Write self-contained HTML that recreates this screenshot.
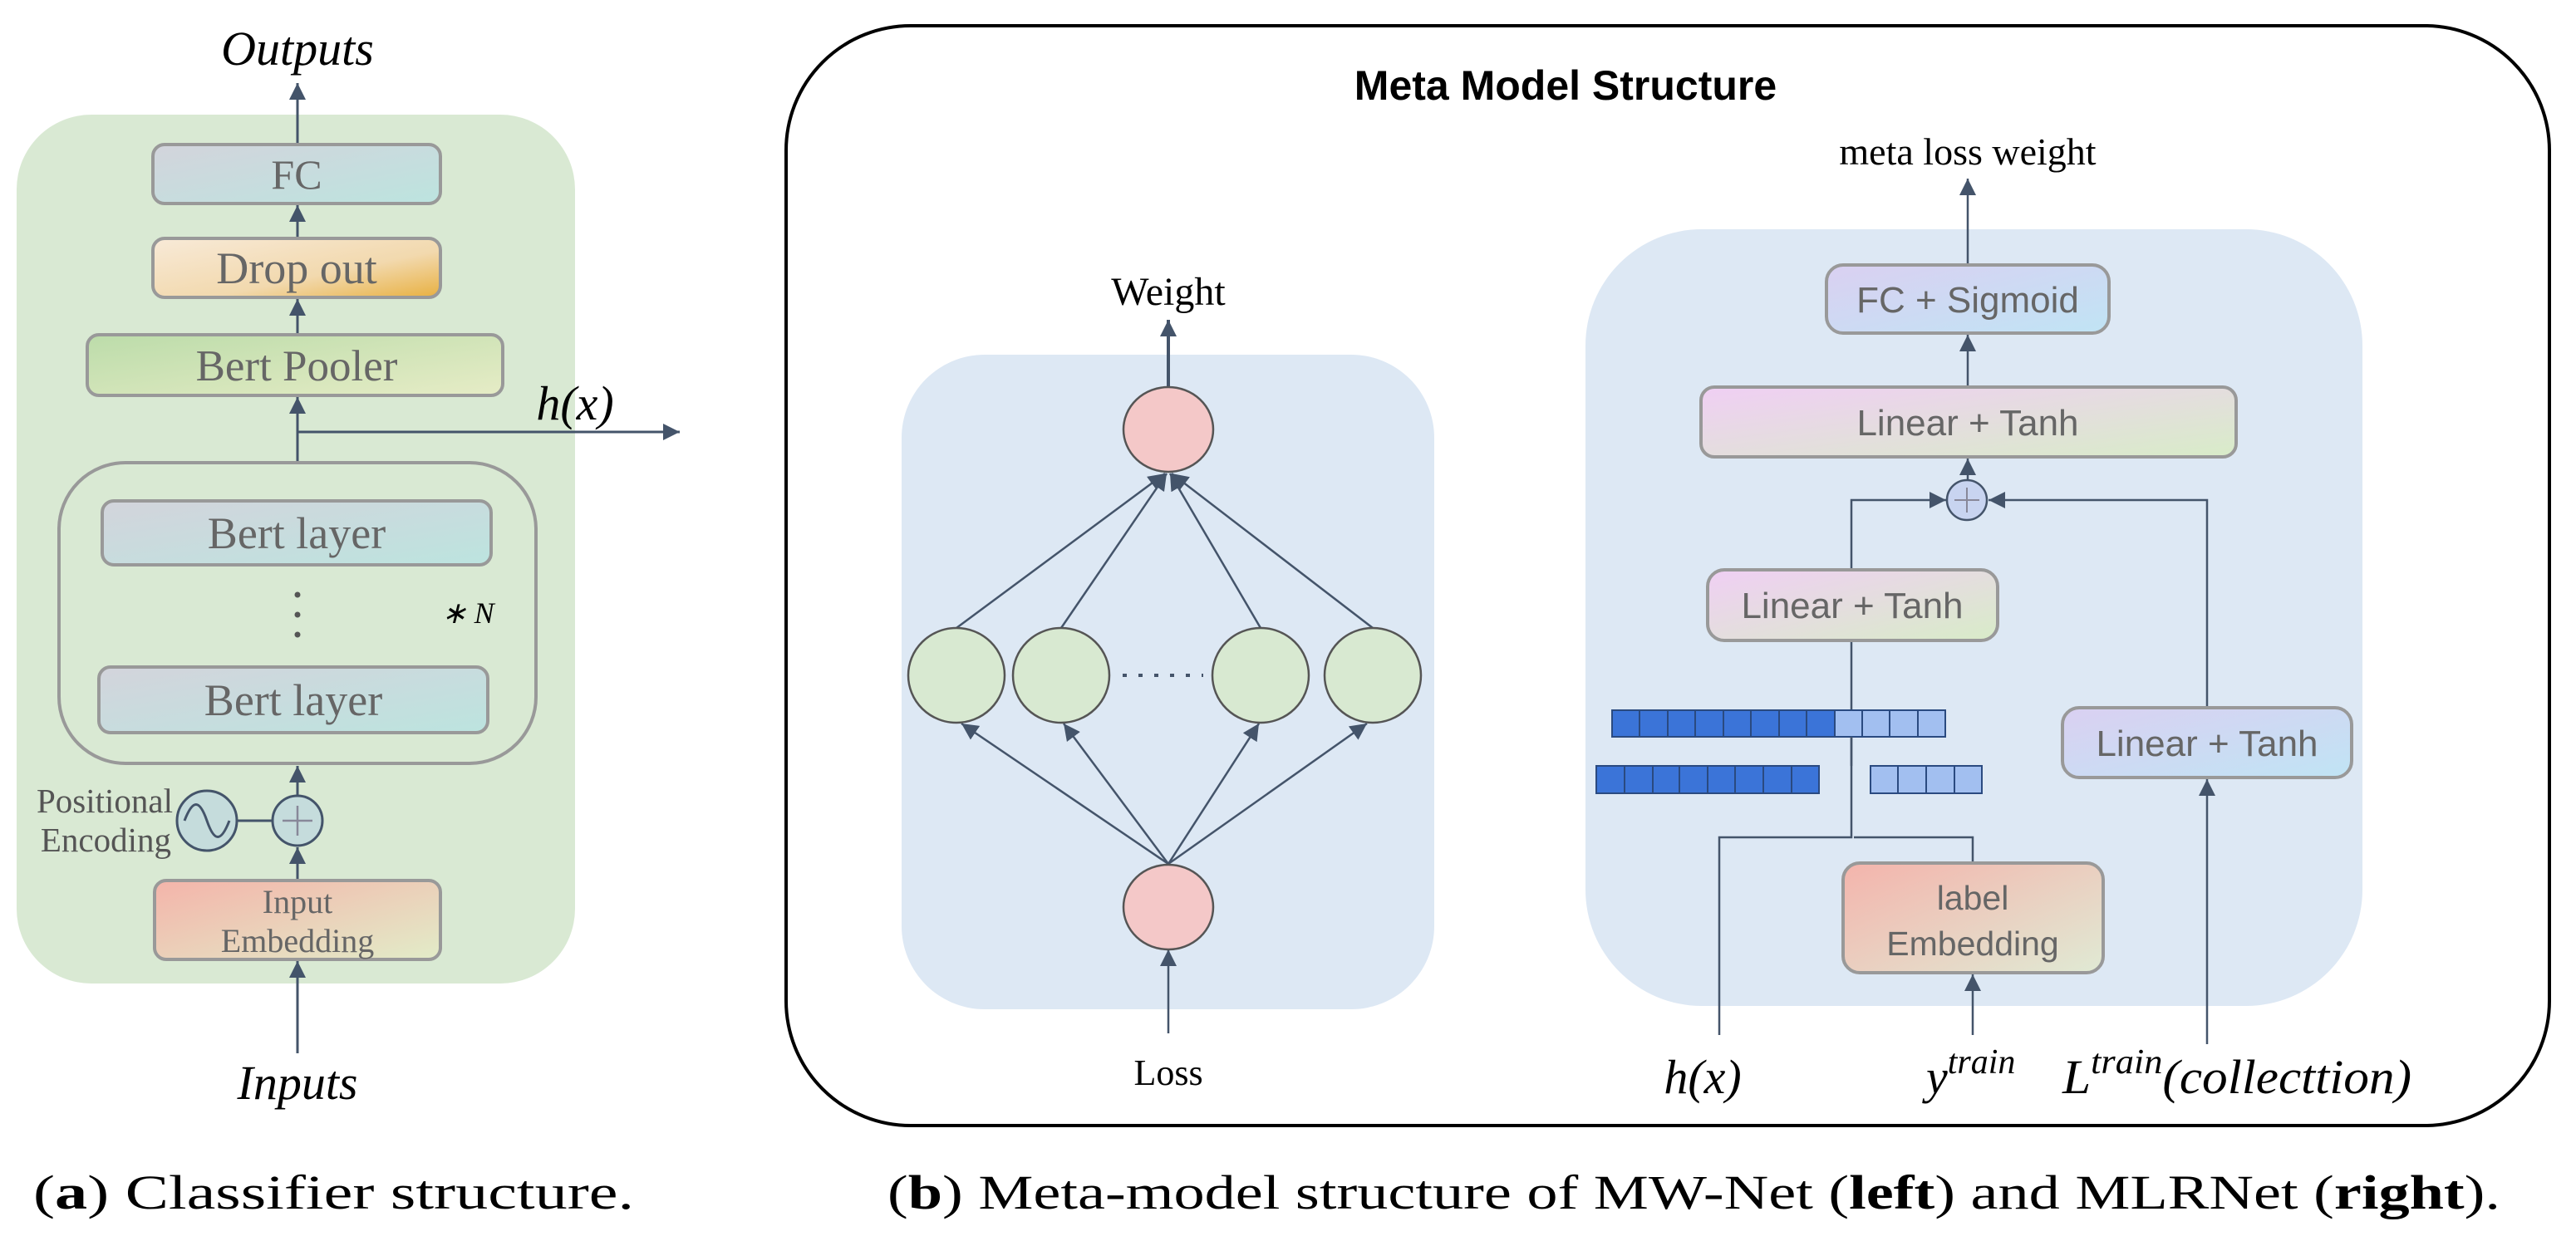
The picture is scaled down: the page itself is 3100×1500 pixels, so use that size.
<!DOCTYPE html>
<html><head><meta charset="utf-8"><style>html,body{margin:0;padding:0;background:#fff}svg{display:block}</style></head>
<body>
<svg width="3100" height="1500" viewBox="0 0 3100 1500" xmlns="http://www.w3.org/2000/svg">
<defs>
<marker id="a" viewBox="0 0 10 10" refX="10" refY="5" markerWidth="20" markerHeight="20" orient="auto" markerUnits="userSpaceOnUse"><path d="M0,0 L10,5 L0,10 z" fill="#44546a"/></marker>
<linearGradient id="gFC" x1="0" y1="0" x2="1" y2="1"><stop offset="0" stop-color="#d3d4dc"/><stop offset="1" stop-color="#bce4df"/></linearGradient>
<linearGradient id="gDrop" x1="0" y1="0" x2="1" y2="1"><stop offset="0" stop-color="#f8ead8"/><stop offset="0.6" stop-color="#f2d9ae"/><stop offset="1" stop-color="#e8b040"/></linearGradient>
<linearGradient id="gPool" x1="0" y1="0" x2="1" y2="1"><stop offset="0" stop-color="#bcdcaa"/><stop offset="1" stop-color="#e6ecc6"/></linearGradient>
<linearGradient id="gInp" x1="0" y1="0" x2="1" y2="1"><stop offset="0" stop-color="#f4b4aa"/><stop offset="1" stop-color="#e2ecc8"/></linearGradient>
<linearGradient id="gSig" x1="0" y1="0" x2="1" y2="1"><stop offset="0" stop-color="#dad0f2"/><stop offset="1" stop-color="#c0e4f4"/></linearGradient>
<linearGradient id="gLT" x1="0" y1="0" x2="1" y2="1"><stop offset="0" stop-color="#f0cff4"/><stop offset="1" stop-color="#d8ecc8"/></linearGradient>
<linearGradient id="gLab" x1="0" y1="0" x2="1" y2="1"><stop offset="0" stop-color="#f4b4ac"/><stop offset="1" stop-color="#e0ead4"/></linearGradient>
</defs>

<!-- LEFT PANEL -->
<rect x="20" y="138" width="672" height="1046" rx="90" fill="#d9e9d3"/>
<g stroke="#44546a" stroke-width="3" fill="none">
<line x1="358" y1="174" x2="358" y2="100" marker-end="url(#a)"/>
<line x1="358" y1="287" x2="358" y2="247" marker-end="url(#a)"/>
<line x1="358" y1="403" x2="358" y2="360" marker-end="url(#a)"/>
<line x1="358" y1="557" x2="358" y2="478" marker-end="url(#a)"/>
<line x1="358" y1="520" x2="818" y2="520" marker-end="url(#a)"/>
<line x1="358" y1="958" x2="358" y2="922" marker-end="url(#a)"/>
<line x1="358" y1="1060" x2="358" y2="1020" marker-end="url(#a)"/>
<line x1="358" y1="1268" x2="358" y2="1157" marker-end="url(#a)"/>
<line x1="285" y1="988" x2="328" y2="988"/>
</g>
<text x="358" y="78" font-family="Liberation Serif, serif" font-style="italic" font-size="58" text-anchor="middle">Outputs</text>
<rect x="184" y="174" width="346" height="71" rx="14" fill="url(#gFC)" stroke="#999" stroke-width="4"/>
<text x="357" y="227" font-family="Liberation Serif, serif" font-size="50" fill="#666" text-anchor="middle">FC</text>
<rect x="184" y="287" width="346" height="71" rx="14" fill="url(#gDrop)" stroke="#999" stroke-width="4"/>
<text x="357" y="341" font-family="Liberation Serif, serif" font-size="54" fill="#666" text-anchor="middle">Drop out</text>
<rect x="105" y="403" width="500" height="73" rx="14" fill="url(#gPool)" stroke="#999" stroke-width="4"/>
<text x="357" y="458" font-family="Liberation Serif, serif" font-size="53" fill="#666" text-anchor="middle">Bert Pooler</text>
<text x="692" y="505" font-family="Liberation Serif, serif" font-style="italic" font-size="58" text-anchor="middle">h(x)</text>
<rect x="71" y="557" width="574" height="362" rx="80" fill="none" stroke="#999" stroke-width="4"/>
<rect x="123" y="603" width="468" height="77" rx="14" fill="url(#gFC)" stroke="#999" stroke-width="4"/>
<text x="357" y="660" font-family="Liberation Serif, serif" font-size="54" fill="#666" text-anchor="middle">Bert layer</text>
<circle cx="358" cy="716" r="3.5" fill="#555"/><circle cx="358" cy="740" r="3.5" fill="#555"/><circle cx="358" cy="764" r="3.5" fill="#555"/>
<text x="563" y="750" font-family="Liberation Serif, serif" font-style="italic" font-size="36" text-anchor="middle">∗ N</text>
<rect x="119" y="803" width="468" height="79" rx="14" fill="url(#gFC)" stroke="#999" stroke-width="4"/>
<text x="353" y="861" font-family="Liberation Serif, serif" font-size="54" fill="#666" text-anchor="middle">Bert layer</text>
<circle cx="249" cy="988" r="36" fill="#c5dcdc" stroke="#44546a" stroke-width="3"/>
<path d="M222,988 C232,962 240,962 249,988 C258,1014 266,1014 276,988" fill="none" stroke="#44546a" stroke-width="3"/>
<circle cx="358" cy="988" r="30" fill="#c5dcdc" stroke="#44546a" stroke-width="3"/>
<path d="M340,988 H376 M358,970 V1006" stroke="#889" stroke-width="2.5"/>
<text x="208" y="978" font-family="Liberation Serif, serif" font-size="41" fill="#555" text-anchor="end">Positional</text>
<text x="206" y="1025" font-family="Liberation Serif, serif" font-size="41" fill="#555" text-anchor="end">Encoding</text>
<rect x="186" y="1060" width="344" height="95" rx="14" fill="url(#gInp)" stroke="#999" stroke-width="4"/>
<text x="358" y="1099" font-family="Liberation Serif, serif" font-size="40" fill="#666" text-anchor="middle">Input</text>
<text x="358" y="1146" font-family="Liberation Serif, serif" font-size="40" fill="#666" text-anchor="middle">Embedding</text>
<text x="358" y="1323" font-family="Liberation Serif, serif" font-style="italic" font-size="58" text-anchor="middle">Inputs</text>

<!-- BIG BOX -->
<rect x="946" y="31" width="2122" height="1324" rx="150" fill="none" stroke="#000" stroke-width="4"/>
<text x="1884" y="120" font-family="Liberation Sans, sans-serif" font-weight="bold" font-size="50" text-anchor="middle">Meta Model Structure</text>

<!-- MW-Net -->
<rect x="1085" y="427" width="641" height="788" rx="100" fill="#dde8f4"/>
<g stroke="#44546a" stroke-width="2.5" fill="none">
<line x1="1406" y1="466" x2="1406" y2="385" stroke-width="4" marker-end="url(#a)"/>
<line x1="1406" y1="1244" x2="1406" y2="1143" marker-end="url(#a)"/>
<line x1="1151" y1="756" x2="1402" y2="570" marker-end="url(#a)"/>
<line x1="1277" y1="756" x2="1404" y2="570" marker-end="url(#a)"/>
<line x1="1517" y1="756" x2="1408" y2="570" marker-end="url(#a)"/>
<line x1="1652" y1="756" x2="1410" y2="570" marker-end="url(#a)"/>
<line x1="1406" y1="1040" x2="1157" y2="871" marker-end="url(#a)"/>
<line x1="1406" y1="1040" x2="1280" y2="871" marker-end="url(#a)"/>
<line x1="1406" y1="1040" x2="1515" y2="871" marker-end="url(#a)"/>
<line x1="1406" y1="1040" x2="1645" y2="871" marker-end="url(#a)"/>
<line x1="1351" y1="813" x2="1448" y2="813" stroke-dasharray="5,14" stroke-width="4"/>
</g>
<ellipse cx="1406" cy="517" rx="54" ry="51" fill="#f4c8c8" stroke="#555" stroke-width="2.5"/>
<ellipse cx="1406" cy="1092" rx="54" ry="51" fill="#f4c8c8" stroke="#555" stroke-width="2.5"/>
<ellipse cx="1151" cy="813" rx="58" ry="57" fill="#d8e9d1" stroke="#555" stroke-width="2.5"/>
<ellipse cx="1277" cy="813" rx="58" ry="57" fill="#d8e9d1" stroke="#555" stroke-width="2.5"/>
<ellipse cx="1517" cy="813" rx="58" ry="57" fill="#d8e9d1" stroke="#555" stroke-width="2.5"/>
<ellipse cx="1652" cy="813" rx="58" ry="57" fill="#d8e9d1" stroke="#555" stroke-width="2.5"/>
<text x="1406" y="367" font-family="Liberation Serif, serif" font-size="48" text-anchor="middle">Weight</text>
<text x="1406" y="1306" font-family="Liberation Serif, serif" font-size="44" text-anchor="middle">Loss</text>

<!-- MLRNet -->
<rect x="1908" y="276" width="935" height="935" rx="140" fill="#dde8f4"/>
<text x="2368" y="198" font-family="Liberation Serif, serif" font-size="46" text-anchor="middle">meta loss weight</text>
<g stroke="#44546a" stroke-width="2.5" fill="none">
<line x1="2368" y1="319" x2="2368" y2="215" marker-end="url(#a)"/>
<line x1="2368" y1="466" x2="2368" y2="403" marker-end="url(#a)"/>
<line x1="2368" y1="578" x2="2368" y2="552" marker-end="url(#a)"/>
<polyline points="2228,686 2228,602 2342,602" marker-end="url(#a)"/>
<polyline points="2656,852 2656,602 2393,602" marker-end="url(#a)"/>
<polyline points="2228,771 2228,1008 2069,1008 2069,1246"/>
<polyline points="2231,1008 2374,1008 2374,1039"/>
<line x1="2374" y1="1246" x2="2374" y2="1173" marker-end="url(#a)"/>
<line x1="2656" y1="1257" x2="2656" y2="938" marker-end="url(#a)"/>
</g>
<rect x="2198" y="319" width="340" height="82" rx="20" fill="url(#gSig)" stroke="#999" stroke-width="4"/>
<text x="2368" y="376" font-family="Liberation Sans, sans-serif" font-size="44" fill="#666" text-anchor="middle">FC + Sigmoid</text>
<rect x="2047" y="466" width="644" height="84" rx="16" fill="url(#gLT)" stroke="#999" stroke-width="4"/>
<text x="2368" y="524" font-family="Liberation Sans, sans-serif" font-size="44" fill="#666" text-anchor="middle">Linear + Tanh</text>
<circle cx="2367" cy="602" r="24" fill="#c8d4f0" stroke="#44546a" stroke-width="2.5"/>
<path d="M2352,602 H2382 M2367,587 V617" stroke="#889" stroke-width="2"/>
<rect x="2055" y="686" width="349" height="85" rx="20" fill="url(#gLT)" stroke="#999" stroke-width="4"/>
<text x="2229" y="744" font-family="Liberation Sans, sans-serif" font-size="44" fill="#666" text-anchor="middle">Linear + Tanh</text>
<rect x="2482" y="852" width="348" height="84" rx="20" fill="url(#gSig)" stroke="#999" stroke-width="4"/>
<text x="2656" y="910" font-family="Liberation Sans, sans-serif" font-size="44" fill="#666" text-anchor="middle">Linear + Tanh</text>
<rect x="2218" y="1039" width="313" height="132" rx="20" fill="url(#gLab)" stroke="#999" stroke-width="4"/>
<text x="2374" y="1095" font-family="Liberation Sans, sans-serif" font-size="41" fill="#666" text-anchor="middle">label</text>
<text x="2374" y="1150" font-family="Liberation Sans, sans-serif" font-size="41" fill="#666" text-anchor="middle">Embedding</text>
<g stroke="#2a4a80" stroke-width="2">
<rect x="1940" y="855" width="268" height="32" fill="#3b74d8"/>
<rect x="2208" y="855" width="133" height="32" fill="#a2bff0"/>
<rect x="1921" y="922" width="268" height="33" fill="#3b74d8"/>
<rect x="2251" y="922" width="134" height="33" fill="#a2bff0"/>
<path d="M1973,855V887M2007,855V887M2040,855V887M2074,855V887M2107,855V887M2141,855V887M2174,855V887M2241,855V887M2274,855V887M2308,855V887M1955,922V955M1989,922V955M2021,922V955M2055,922V955M2088,922V955M2122,922V955M2156,922V955M2284,922V955M2318,922V955M2352,922V955"/>
</g>
<line x1="2228" y1="887" x2="2228" y2="922" stroke="#44546a" stroke-width="2.5"/>
<text x="2049" y="1316" font-family="Liberation Serif, serif" font-style="italic" font-size="58" text-anchor="middle">h(x)</text>
<text x="2318" y="1316" font-family="Liberation Serif, serif" font-style="italic" font-size="58">y<tspan font-size="42" dy="-24">train</tspan></text>
<text x="2482" y="1316" font-family="Liberation Serif, serif" font-style="italic" font-size="58" textLength="420" lengthAdjust="spacingAndGlyphs">L<tspan font-size="42" dy="-24">train</tspan><tspan dy="24">(collecttion)</tspan></text>

<!-- captions -->
<text x="40" y="1455" font-family="Liberation Serif, serif" font-size="58" textLength="723" lengthAdjust="spacingAndGlyphs">(<tspan font-weight="bold">a</tspan>) Classifier structure.</text>
<text x="1068" y="1455" font-family="Liberation Serif, serif" font-size="58" textLength="1941" lengthAdjust="spacingAndGlyphs">(<tspan font-weight="bold">b</tspan>) Meta-model structure of MW-Net (<tspan font-weight="bold">left</tspan>) and MLRNet (<tspan font-weight="bold">right</tspan>).</text>
</svg>
</body></html>
